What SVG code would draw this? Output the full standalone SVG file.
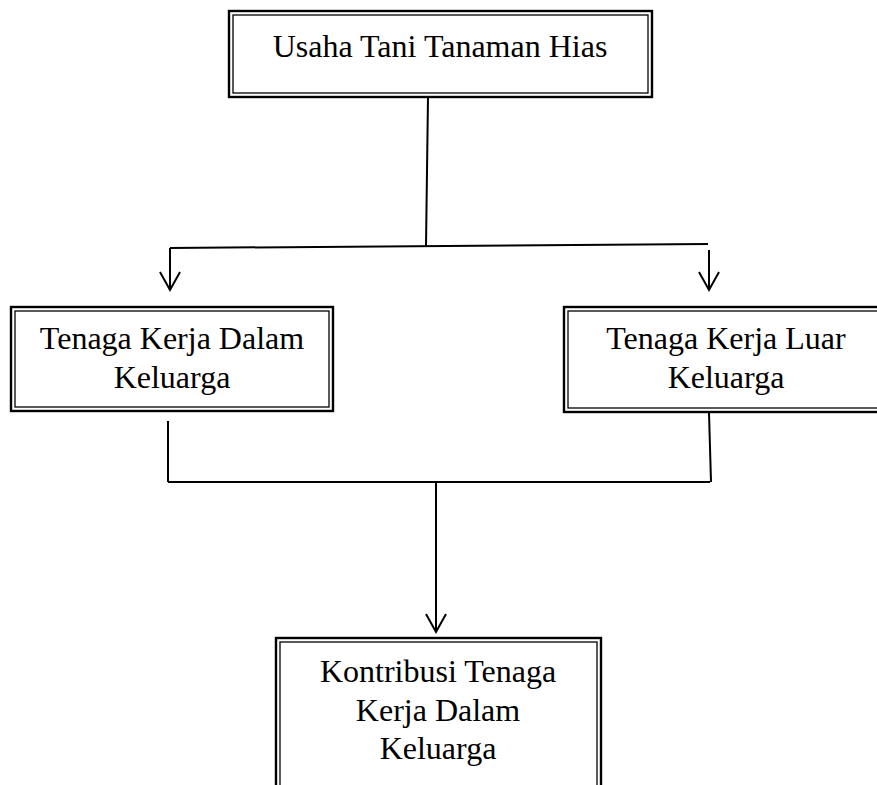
<svg xmlns="http://www.w3.org/2000/svg" width="877" height="785" viewBox="0 0 877 785">
<defs>
<style>
.outer{fill:none;stroke:#000;stroke-width:2.4}
.inner{fill:none;stroke:#000;stroke-width:1.3}
.lbl{font-family:"Liberation Serif","Times New Roman",serif;font-size:32px;fill:#000;text-anchor:middle}
.conn{fill:none;stroke:#000;stroke-width:2}
</style>
<marker id="arr" markerUnits="userSpaceOnUse" markerWidth="40" markerHeight="40" refX="0" refY="0" orient="auto" overflow="visible">
<path d="M-18,-10 L0,0 L-18,10" fill="none" stroke="#000" stroke-width="2"/>
</marker>
</defs>
<rect width="877" height="785" fill="#fff"/>
<g id="connectors">
<path class="conn" d="M428,97 L426,246"/>
<path class="conn" d="M170,248 L708,244"/>
<path class="conn" d="M170,248 L170,290" marker-end="url(#arr)"/>
<path class="conn" d="M709,250 L709,290" marker-end="url(#arr)"/>
<path class="conn" d="M168,421 L168,482"/>
<path class="conn" d="M709,413 L711,482"/>
<path class="conn" d="M168,482 L710,482"/>
<path class="conn" d="M436,482 L436,632" marker-end="url(#arr)"/>
</g>
<g id="node-usaha">
<rect class="outer" x="229" y="11" width="423" height="86"/>
<rect class="inner" x="233" y="15" width="415" height="78"/>
<text class="lbl" x="440" y="57">Usaha Tani Tanaman Hias</text>
</g>
<g id="node-dalam">
<rect class="outer" x="11" y="307" width="322" height="104"/>
<rect class="inner" x="15" y="311" width="314" height="96"/>
<text class="lbl" x="172" y="349">Tenaga Kerja Dalam</text>
<text class="lbl" x="172" y="388">Keluarga</text>
</g>
<g id="node-luar">
<rect class="outer" x="564" y="307" width="323" height="105"/>
<rect class="inner" x="568" y="311" width="315" height="97"/>
<text class="lbl" x="726" y="349">Tenaga Kerja Luar</text>
<text class="lbl" x="726" y="388">Keluarga</text>
</g>
<g id="node-kontribusi">
<rect class="outer" x="276" y="638" width="325" height="160"/>
<rect class="inner" x="280" y="642" width="317" height="152"/>
<text class="lbl" x="438" y="682">Kontribusi Tenaga</text>
<text class="lbl" x="438" y="721">Kerja Dalam</text>
<text class="lbl" x="438" y="759">Keluarga</text>
</g>
</svg>
